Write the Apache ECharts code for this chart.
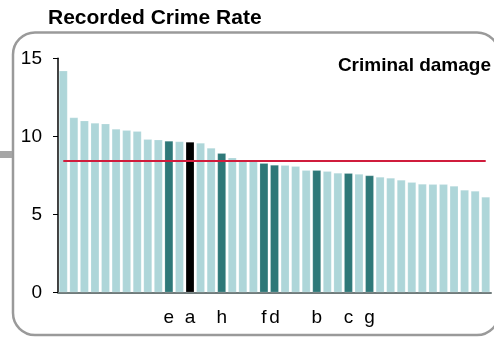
<!DOCTYPE html>
<html>
<head>
<meta charset="utf-8">
<script src="https://cdn.jsdelivr.net/npm/echarts@6/dist/echarts.min.js"></script>
<style>html,body{margin:0;padding:0;background:#fff}#c{width:494px;height:337px}</style>
</head>
<body>
<div id="c"></div>
<script>
var titleText = 'Recorded Crime Rate';
var subtitleText = 'Criminal damage';
var labels = ['', '', '', '', '', '', '', '', '', '', 'e', '', 'a', '', '', 'h', '', '', '', 'f', 'd', '', '', '', 'b', '', '', 'c', '', 'g', '', '', '', '', '', '', '', '', '', '', ''];
var values = [14.2, 11.2, 11.0, 10.85, 10.8, 10.47, 10.38, 10.32, 9.81, 9.78, 9.70, 9.66, 9.63, 9.57, 9.25, 8.91, 8.63, 8.5, 8.45, 8.27, 8.16, 8.14, 8.08, 7.82, 7.82, 7.76, 7.65, 7.63, 7.58, 7.48, 7.39, 7.33, 7.20, 7.05, 6.94, 6.92, 6.92, 6.81, 6.56, 6.49, 6.11];
var selectedLabel = 'a';
var averageValue = 8.44;
var yTicks = [0, 5, 10, 15];

var LIGHT = '#aed6d9', DARK = '#2e7878', SEL = '#000000';
var barData = values.map(function (v, i) {
  var c = labels[i] === selectedLabel ? SEL : (labels[i] ? DARK : LIGHT);
  return { value: v, itemStyle: { color: c } };
});

var chart = echarts.init(document.getElementById('c'), null, { renderer: 'canvas' });
chart.setOption({
  animation: false,
  backgroundColor: '#fff',
  textStyle: { fontFamily: 'Liberation Sans, Arial, sans-serif' },
  graphic: [
    { type: 'rect', z: -10, shape: { x: 13, y: 32.5, width: 486, height: 302.5, r: 22 },
      style: { fill: 'none', stroke: '#9a9a9a', lineWidth: 2.5 } },
    { type: 'rect', z: -10, shape: { x: 0, y: 151, width: 12, height: 7 },
      style: { fill: '#a6a6a6' } },
    { type: 'text', x: 48, y: 18, style: { text: titleText, fontSize: 21, fontWeight: 'bold',
      fontFamily: 'Liberation Sans, Arial, sans-serif', fill: '#000', verticalAlign: 'middle', align: 'left' } },
    { type: 'text', x: 491, y: 65.5, style: { text: subtitleText, fontSize: 19, fontWeight: 'bold',
      fontFamily: 'Liberation Sans, Arial, sans-serif', fill: '#000', verticalAlign: 'middle', align: 'right' } }
  ],
  grid: { left: 58, right: 3, top: 58.3, bottom: 44.7, containLabel: false },
  xAxis: {
    type: 'category',
    data: labels,
    boundaryGap: true,
    axisLine: { show: true, lineStyle: { color: '#6f7b7b', width: 2 } },
    axisTick: { show: false },
    axisLabel: { interval: 0, fontSize: 19, color: '#000', margin: 16,
      fontFamily: 'Liberation Sans, Arial, sans-serif' },
    splitLine: { show: false }
  },
  yAxis: {
    type: 'value',
    min: yTicks[0], max: yTicks[yTicks.length - 1], interval: yTicks[1] - yTicks[0],
    axisLine: { show: true, lineStyle: { color: '#000', width: 1.5 } },
    axisTick: { show: true, length: 5, lineStyle: { color: '#000', width: 1 } },
    axisLabel: { fontSize: 19, color: '#000', margin: 16,
      fontFamily: 'Liberation Sans, Arial, sans-serif' },
    splitLine: { show: false }
  },
  series: [{
    type: 'bar',
    data: barData,
    barWidth: '80%',
    itemStyle: { borderColor: 'rgba(255,255,255,0.35)', borderWidth: 0.5 },
    markLine: {
      silent: true,
      symbol: ['none', 'none'],
      label: { show: false },
      lineStyle: { color: '#d01c3c', width: 2.2, type: 'solid' },
      data: [[{ coord: [0, averageValue] }, { coord: [values.length - 1, averageValue] }]]
    }
  }]
});
</script>
</body>
</html>
